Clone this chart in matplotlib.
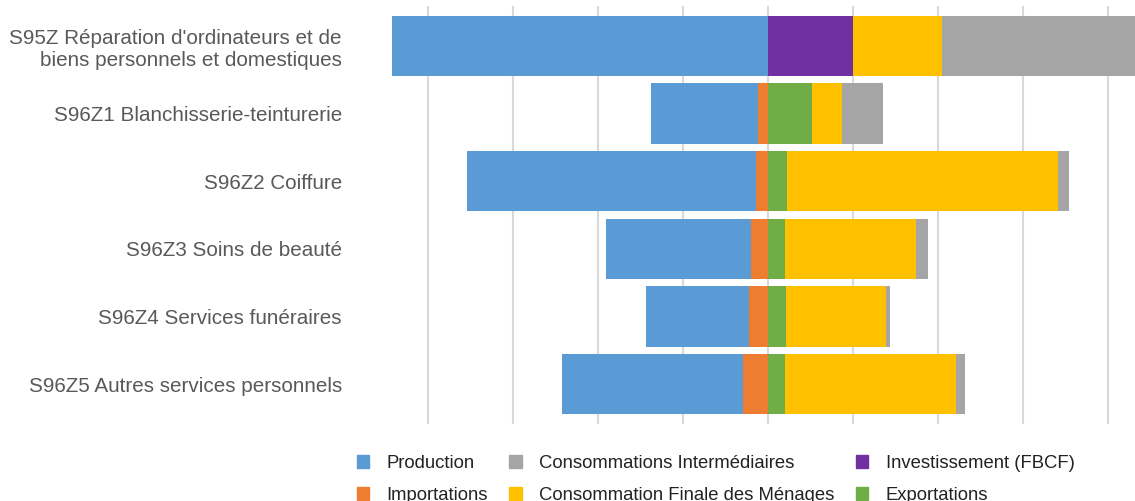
import matplotlib.pyplot as plt
from matplotlib.patches import Patch
import numpy as np

plt.rcParams['font.family'] = ['Liberation Sans', 'DejaVu Sans']

categories = [
    "S95Z Réparation d'ordinateurs et de\nbiens personnels et domestiques",
    "S96Z1 Blanchisserie-teinturerie",
    "S96Z2 Coiffure",
    "S96Z3 Soins de beauté",
    "S96Z4 Services funéraires",
    "S96Z5 Autres services personnels",
]

# valeurs estimées (gauche = ressources, droite = emplois)
production = [442, 126, 340, 170, 121, 213]
importations = [0, 11, 14, 20, 22, 29]
exportations = [0, 52, 23, 20, 22, 20]
investissement = [100, 0, 0, 0, 0, 0]
conso_menages = [105, 35, 319, 155, 117, 201]
conso_inter = [260, 49, 12, 14, 5, 11]

colors = {
    'Production': '#5b9bd5',
    'Importations': '#ed7d31',
    'Consommations Intermédiaires': '#a5a5a5',
    'Consommation Finale des Ménages': '#ffc000',
    'Investissement (FBCF)': '#7030a0',
    'Exportations': '#70ad47',
}

fig = plt.figure(figsize=(11.35, 5.01), dpi=100)
ax = fig.add_axes([385 / 1135, 1 - 424 / 501, 1 - 385 / 1135, 418 / 501])

y = np.arange(len(categories))
h = 0.89

imp = np.array(importations)
prod = np.array(production)
ax.barh(y, -imp, height=h, color=colors['Importations'], zorder=2)
ax.barh(y, -prod, left=-imp, height=h, color=colors['Production'], zorder=2)

left = np.zeros(len(categories))
for name, vals in [('Exportations', exportations),
                   ('Investissement (FBCF)', investissement),
                   ('Consommation Finale des Ménages', conso_menages),
                   ('Consommations Intermédiaires', conso_inter)]:
    vals = np.array(vals)
    ax.barh(y, vals, left=left, height=h, color=colors[name], zorder=2)
    left = left + vals

ax.set_xlim(-450, 432)
ax.set_ylim(len(categories) - 0.41, -0.59)
ax.set_xticks(np.arange(-400, 401, 100))
ax.set_xticklabels([])
ax.tick_params(axis='x', length=0)
ax.grid(axis='x', color='#d9d9d9', linewidth=1.5, zorder=0)
ax.set_axisbelow(True)
ax.set_yticks(y)
ax.set_yticklabels(categories, fontsize=14.85, color='#595959')
ax.tick_params(axis='y', length=0, pad=31)
for s in ax.spines.values():
    s.set_visible(False)

order = ['Production', 'Importations', 'Consommations Intermédiaires',
         'Consommation Finale des Ménages', 'Investissement (FBCF)', 'Exportations']
handles = [Patch(color=colors[k], label=k) for k in order]
fig.legend(handles=handles, loc='upper left', bbox_to_anchor=(357 / 1135, 1 - 455 / 501),
           ncol=3, frameon=False, fontsize=13.35, handlelength=0.65, handleheight=0.65,
           handletextpad=0.95, columnspacing=1.15, labelspacing=0.8,
           borderpad=0, borderaxespad=0, labelcolor='#222222')

fig.savefig('out.png', dpi=100)
